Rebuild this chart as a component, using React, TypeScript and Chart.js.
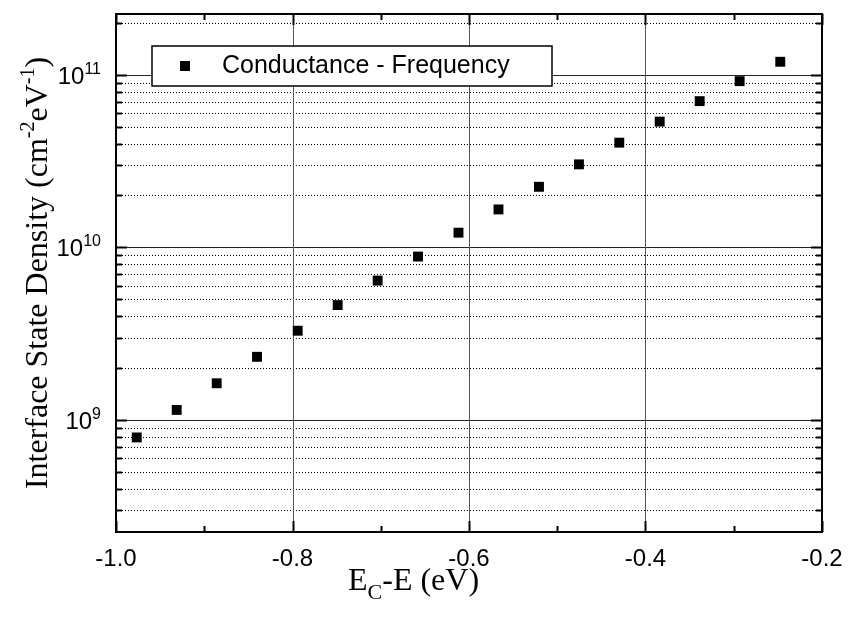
import React, { useEffect, useRef } from 'react';
import { Chart, registerables } from 'chart.js';

Chart.register(...registerables);

// ---- data ----
const energies = [
  -0.9765, -0.9312, -0.8859, -0.8402, -0.7941, -0.7488, -0.7035, -0.6578, -0.6119,
  -0.5666, -0.5207, -0.4754, -0.4297, -0.3839, -0.3386, -0.2933, -0.2473,
];
const densities = [
  7.94e8, 1.146e9, 1.635e9, 2.327e9, 3.295e9, 4.64e9, 6.43e9, 8.86e9, 1.218e10,
  1.661e10, 2.246e10, 3.03e10, 4.046e10, 5.357e10, 7.04e10, 9.19e10, 1.19e11,
];
const xMajorTicks = [-1.0, -0.8, -0.6, -0.4, -0.2];
const xMajorLabels = ['-1.0', '-0.8', '-0.6', '-0.4', '-0.2'];
const xMinorTicks = [-0.9, -0.7, -0.5, -0.3];
const yMajorExponents = [9, 10, 11];
const yMinorDecades = [8, 9, 10, 11];
const yMinorMantissas = [2, 3, 4, 5, 6, 7, 8, 9];
const seriesLabel = 'Conductance - Frequency';
const X_MIN = -1.0;
const X_MAX = -0.2;
const Y_MIN = 2.25e8;
const Y_MAX = 2.25e11;

const SANS = '"Liberation Sans", Arial, sans-serif';
const SERIF = '"Liberation Serif", "Times New Roman", serif';

const decorPlugin = {
  id: 'decor',
  beforeDatasetsDraw(chart: any) {
    const { ctx, chartArea: a, scales } = chart;
    const xs = scales.x;
    const ys = scales.y;
    ctx.save();
    // minor dotted horizontal lines
    ctx.lineWidth = 1;
    ctx.strokeStyle = '#000';
    ctx.setLineDash([1, 2]);
    for (const e of yMinorDecades) {
      for (const m of yMinorMantissas) {
        const v = m * Math.pow(10, e);
        if (v <= Y_MIN || v >= Y_MAX) continue;
        const y = Math.round(ys.getPixelForValue(v)) + 0.5;
        ctx.beginPath();
        ctx.moveTo(a.left, y);
        ctx.lineTo(a.right, y);
        ctx.stroke();
      }
    }
    ctx.setLineDash([]);
    // major horizontal lines
    ctx.strokeStyle = '#222';
    for (const e of yMajorExponents) {
      const y = Math.round(ys.getPixelForValue(Math.pow(10, e))) + 0.5;
      ctx.beginPath();
      ctx.moveTo(a.left, y);
      ctx.lineTo(a.right, y);
      ctx.stroke();
    }
    // major vertical lines
    ctx.strokeStyle = '#555';
    for (const v of xMajorTicks) {
      if (v <= X_MIN || v >= X_MAX) continue;
      const x = Math.round(xs.getPixelForValue(v)) + 0.5;
      ctx.beginPath();
      ctx.moveTo(x, a.top);
      ctx.lineTo(x, a.bottom);
      ctx.stroke();
    }
    // legend box
    const lx = 152, ly = 46, lw = 400, lh = 40;
    ctx.fillStyle = '#fff';
    ctx.fillRect(lx, ly, lw, lh);
    ctx.strokeStyle = '#000';
    ctx.lineWidth = 1.5;
    ctx.strokeRect(lx, ly, lw, lh);
    ctx.fillStyle = '#000';
    ctx.fillRect(180, 61, 10, 10);
    ctx.font = `25px ${SANS}`;
    ctx.textBaseline = 'middle';
    ctx.textAlign = 'left';
    ctx.fillText(seriesLabel, 222, 66);
    ctx.restore();
  },
  afterDatasetsDraw(chart: any) {
    const { ctx, chartArea: a, scales } = chart;
    const xs = scales.x;
    const ys = scales.y;
    ctx.save();
    ctx.strokeStyle = '#000';
    ctx.lineWidth = 2;
    // ticks
    const hTick = (y: number, len: number) => {
      ctx.beginPath();
      ctx.moveTo(a.left, y);
      ctx.lineTo(a.left + len, y);
      ctx.moveTo(a.right, y);
      ctx.lineTo(a.right - len, y);
      ctx.stroke();
    };
    const vTick = (x: number, len: number) => {
      ctx.beginPath();
      ctx.moveTo(x, a.bottom);
      ctx.lineTo(x, a.bottom - len);
      ctx.moveTo(x, a.top);
      ctx.lineTo(x, a.top + len);
      ctx.stroke();
    };
    for (const e of yMinorDecades) {
      for (const m of yMinorMantissas) {
        const v = m * Math.pow(10, e);
        if (v <= Y_MIN || v >= Y_MAX) continue;
        hTick(Math.round(ys.getPixelForValue(v)) + 0.5, 6);
      }
    }
    for (const e of yMajorExponents) hTick(Math.round(ys.getPixelForValue(Math.pow(10, e))) + 0.5, 11);
    for (const v of xMinorTicks) vTick(Math.round(xs.getPixelForValue(v)) + 0.5, 6);
    for (const v of xMajorTicks) vTick(Math.round(xs.getPixelForValue(v)) + 0.5, 11);
    // frame
    ctx.strokeRect(a.left, a.top, a.right - a.left, a.bottom - a.top);

    ctx.fillStyle = '#000';
    // x tick labels
    ctx.font = `24px ${SANS}`;
    ctx.textAlign = 'center';
    ctx.textBaseline = 'alphabetic';
    xMajorTicks.forEach((v, i) => {
      ctx.fillText(xMajorLabels[i], xs.getPixelForValue(v), a.bottom + 34);
    });
    // y tick labels 10^n
    ctx.textAlign = 'left';
    for (const e of yMajorExponents) {
      const y = ys.getPixelForValue(Math.pow(10, e));
      ctx.font = `16px ${SANS}`;
      const sup = String(e);
      const supW = ctx.measureText(sup).width;
      ctx.font = `24px ${SANS}`;
      const mainW = ctx.measureText('10').width;
      const right = a.left - 15;
      const x0 = right - supW - mainW;
      ctx.fillText('10', x0, y + 9);
      ctx.font = `16px ${SANS}`;
      ctx.fillText(sup, x0 + mainW, y - 1);
    }
    // y axis title (rotated)
    const segs: [string, number, number][] = [
      ['Interface State Density (cm', 32, 0],
      ['-2', 20, -13],
      ['eV', 32, 0],
      ['-1', 20, -13],
      [')', 32, 0],
    ];
    let total = 0;
    for (const [t, s] of segs) {
      ctx.font = `${s}px ${SERIF}`;
      total += ctx.measureText(t).width;
    }
    ctx.save();
    ctx.translate(47, (a.top + a.bottom) / 2);
    ctx.rotate(-Math.PI / 2);
    let cx = -total / 2;
    for (const [t, s, dy] of segs) {
      ctx.font = `${s}px ${SERIF}`;
      ctx.fillText(t, cx, dy);
      cx += ctx.measureText(t).width;
    }
    ctx.restore();
    // x axis title E_C-E (eV)
    const xsegs: [string, number, number][] = [
      ['E', 32, 0],
      ['C', 22, 9],
      ['-E (eV)', 32, 0],
    ];
    let tx = 348;
    const by = a.bottom + 58;
    for (const [t, s, dy] of xsegs) {
      ctx.font = `${s}px ${SERIF}`;
      ctx.fillText(t, tx, by + dy);
      tx += ctx.measureText(t).width;
    }
    ctx.restore();
  },
};

export default function App() {
  const ref = useRef<HTMLCanvasElement | null>(null);
  useEffect(() => {
    if (!ref.current) return;
    const chart = new Chart(ref.current, {
      type: 'scatter',
      data: {
        datasets: [
          {
            label: seriesLabel,
            data: energies.map((x, i) => ({ x, y: densities[i] })),
            pointStyle: 'rect',
            pointRadius: 7,
            pointHoverRadius: 7,
            pointBackgroundColor: '#000',
            pointBorderColor: '#000',
            pointBorderWidth: 0,
            showLine: false,
          },
        ],
      },
      options: {
        responsive: false,
        animation: false,
        devicePixelRatio: 1,
        layout: { padding: { left: 116, top: 14, right: 29, bottom: 96 } },
        plugins: { legend: { display: false }, tooltip: { enabled: false } },
        events: [],
        scales: {
          x: { type: 'linear', min: X_MIN, max: X_MAX, display: false },
          y: { type: 'logarithmic', min: Y_MIN, max: Y_MAX, display: false },
        },
      },
      plugins: [decorPlugin],
    });
    return () => chart.destroy();
  }, []);
  return (
    <div style={{ position: 'fixed', left: 0, top: 0, width: 851, height: 628, background: '#fff' }}>
      <canvas ref={ref} width={851} height={628} style={{ display: 'block' }} />
    </div>
  );
}
